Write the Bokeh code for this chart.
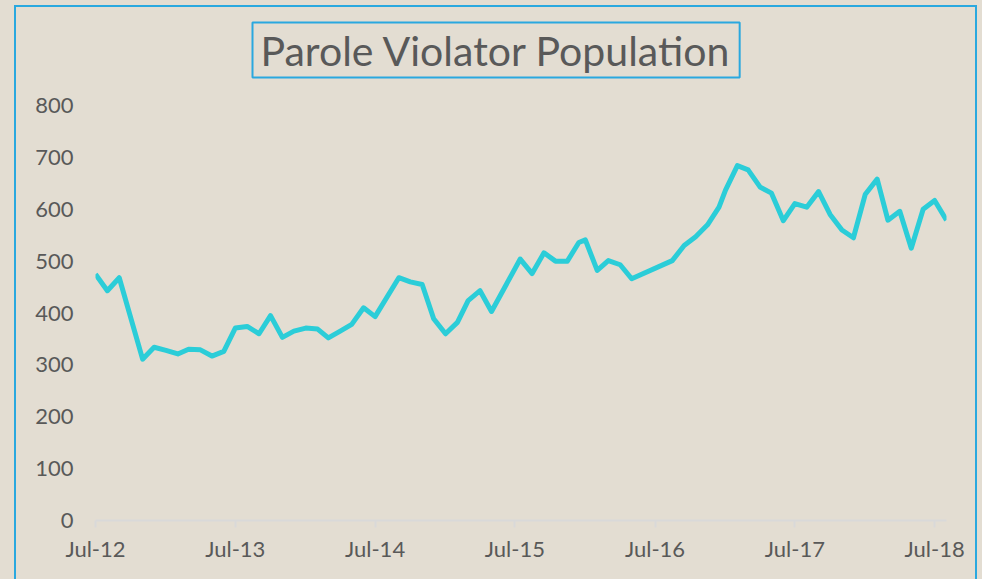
import pandas as pd
from bokeh.plotting import figure
from bokeh.layouts import column
from bokeh.models import ColumnDataSource, FixedTicker, DatetimeTickFormatter, Range1d, Title
from bokeh.embed import file_html
from bokeh.resources import INLINE

# ---- data ----
dates = [
    "2012-07-01", "2012-08-01", "2012-09-01", "2012-11-01", "2012-12-01",
    "2013-01-01", "2013-02-01", "2013-03-01", "2013-04-01", "2013-05-01", "2013-06-01",
    "2013-07-01", "2013-08-01", "2013-09-01", "2013-10-01", "2013-11-01", "2013-12-01",
    "2014-01-01", "2014-02-01", "2014-03-01", "2014-04-01", "2014-05-01", "2014-06-01",
    "2014-07-01", "2014-09-01", "2014-10-01", "2014-11-01", "2014-12-01",
    "2015-01-01", "2015-02-01", "2015-03-01", "2015-04-01", "2015-05-01",
    "2015-07-15", "2015-08-15", "2015-09-15", "2015-10-15", "2015-11-15", "2015-12-15",
    "2016-01-01", "2016-02-01", "2016-03-01", "2016-04-01", "2016-05-01",
    "2016-08-15", "2016-09-15", "2016-10-15", "2016-11-15", "2016-12-15",
    "2017-01-01", "2017-02-01", "2017-03-01", "2017-04-01", "2017-05-01", "2017-06-01",
    "2017-07-01", "2017-08-01", "2017-09-01", "2017-10-01", "2017-11-01", "2017-12-01",
    "2018-01-01", "2018-02-01", "2018-03-01", "2018-04-01", "2018-05-01", "2018-06-01",
    "2018-07-01", "2018-08-01",
]
population = [
    475, 443, 468, 311, 334,
    328, 321, 330, 329, 317, 326,
    371, 374, 360, 395, 353, 365,
    371, 369, 352, 365, 378, 410,
    393, 468, 460, 455, 389,
    360, 382, 424, 443, 403,
    504, 476, 516, 500, 500, 536,
    541, 482, 501, 493, 466,
    501, 530, 547, 570, 604,
    637, 684, 676, 643, 631, 578,
    611, 604, 634, 590, 560, 545,
    629, 658, 579, 596, 525, 600,
    617, 579,
]
x_ticks = ["2012-07-01", "2013-07-01", "2014-07-01", "2015-07-01",
           "2016-07-01", "2017-07-01", "2018-07-01"]
y_ticks = [0, 100, 200, 300, 400, 500, 600, 700, 800]
title_text = "Parole Violator Population"

BG = "#e3ddd2"
LINE = "#2bcdd8"
TXT = "#595959"
BLUE = "#2aa8df"
FONT = "Lato"

src = ColumnDataSource(dict(date=pd.to_datetime(dates), value=population))

p = figure(width=959, height=572, x_axis_type="datetime", output_backend="svg",
           toolbar_location=None,
           x_range=Range1d(pd.Timestamp("2012-07-01"), pd.Timestamp("2018-08-01")),
           y_range=Range1d(0, 800),
           min_border_left=79, min_border_right=29, min_border_top=98, min_border_bottom=59)
p.background_fill_color = BG
p.border_fill_color = BG
p.outline_line_color = None
p.xgrid.grid_line_color = None
p.ygrid.grid_line_color = None

# empty spacer panel between the frame and the boxed title
spacer = Title(text=" ", text_font_size="1px", standoff=25, text_color=BG)
p.add_layout(spacer, "above")

title = Title(text=title_text, align="left", offset=157, text_font=FONT,
              text_font_size="41px", text_font_style="normal", text_color=TXT,
              border_line_color=BLUE, border_line_width=2, padding=(8, 3), standoff=0)
p.add_layout(title, "above")

p.line("date", "value", source=src, line_width=5, line_color=LINE, line_join="round")

tick_ms = [pd.Timestamp(t).value / 1e6 for t in x_ticks]
p.xaxis.ticker = FixedTicker(ticks=tick_ms)
p.xaxis.formatter = DatetimeTickFormatter(days="%b-%y", months="%b-%y", years="%b-%y")
p.xaxis.axis_line_color = "#d9d9d9"
p.xaxis.axis_line_width = 2
p.xaxis.major_tick_line_color = "#d9d9d9"
p.xaxis.major_tick_line_width = 2
p.xaxis.major_tick_out = 7
p.xaxis.major_tick_in = 0
p.xaxis.minor_tick_line_color = None
p.xaxis.major_label_standoff = 7

p.yaxis.ticker = FixedTicker(ticks=y_ticks)
p.yaxis.axis_line_color = None
p.yaxis.major_tick_line_color = None
p.yaxis.minor_tick_line_color = None
p.yaxis.major_tick_out = 0
p.yaxis.major_label_standoff = 22

for ax in (p.xaxis, p.yaxis):
    ax.major_label_text_font = FONT
    ax.major_label_text_font_size = "22px"
    ax.major_label_text_color = TXT

edge = f"2px solid {BLUE}"
inner = column(p, styles={"border-left": edge, "border-top": edge, "border-right": edge})
outer = column(inner, styles={"background-color": BG, "padding": "5px 5px 0px 14px"})

open("out.html", "w").write(file_html(outer, INLINE))
